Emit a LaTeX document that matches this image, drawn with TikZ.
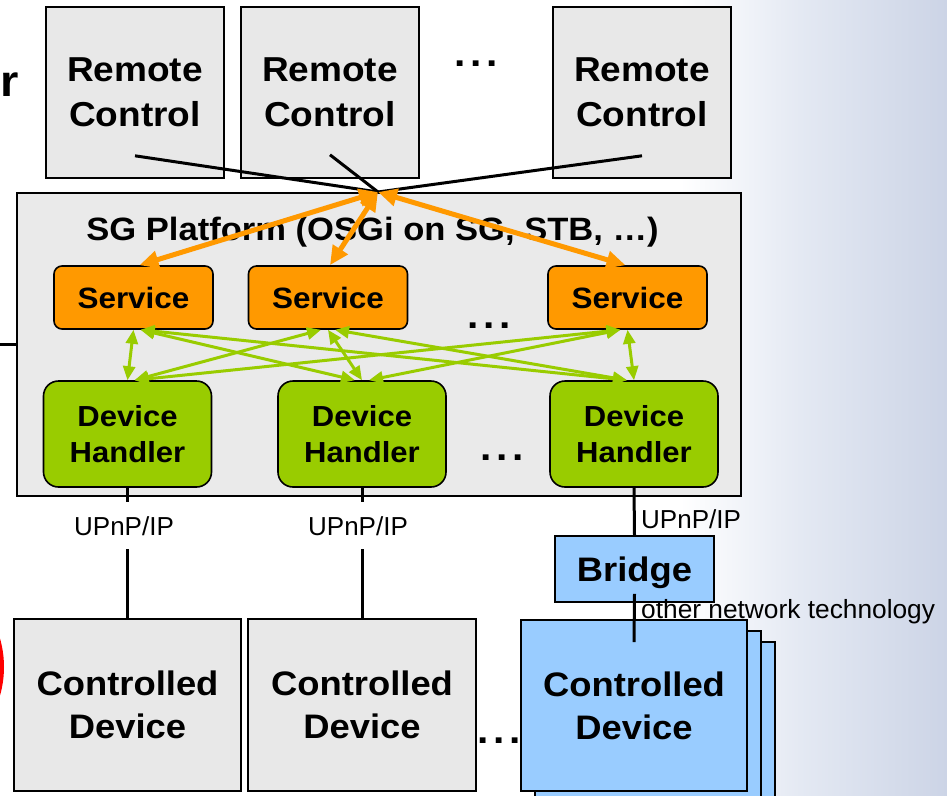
\documentclass[tikz,border=0pt]{standalone}
\usepackage{fontspec}
\setmainfont{Liberation Sans}[BoldFeatures={FakeStretch=1.07}]
\usetikzlibrary{arrows.meta,calc}

\definecolor{boxgray}{RGB}{232,232,232}
\definecolor{platgray}{RGB}{234,234,234}
\definecolor{svcorange}{RGB}{255,153,0}
\definecolor{dhgreen}{RGB}{153,204,0}
\definecolor{devblue}{RGB}{153,204,255}
\definecolor{bgmid}{RGB}{228,233,243}
\definecolor{bgblue}{RGB}{204,212,230}

\newcommand\fsz[2]{\fontsize{#1}{#2}\selectfont}
\newcommand\gapdots{.\kern5pt.\kern5pt.}

\tikzset{
  boxline/.style={draw=black, line width=1.6pt, inner sep=0pt, align=center},
  rcbox/.style={boxline, fill=boxgray, minimum width=178pt, minimum height=171pt,
                font=\bfseries\fsz{34.6}{45}},
  platbox/.style={boxline, fill=platgray, minimum width=724pt, minimum height=303pt},
  svcbox/.style={boxline, fill=svcorange, rounded corners=8pt, minimum width=159pt,
                 minimum height=63pt, font=\bfseries\fsz{29.4}{34}},
  dhbox/.style={boxline, fill=dhgreen, rounded corners=15pt, minimum width=168pt,
                minimum height=106pt, font=\bfseries\fsz{29}{36}},
  cdbox/.style={boxline, fill=boxgray, minimum width=227pt, minimum height=172pt,
                font=\bfseries\fsz{34}{43}},
  bluebox/.style={boxline, fill=devblue, minimum width=226pt, minimum height=171pt,
                  font=\bfseries\fsz{34}{43}},
  bridgebox/.style={boxline, fill=devblue, minimum width=159pt, minimum height=66pt,
                    font=\bfseries\fsz{34}{40}, text depth=0pt},
  dotrow/.style={anchor=base, inner sep=0pt, font=\bfseries\fsz{38}{40}},
  proto/.style={font=\fsz{26}{30}, inner xsep=2pt, inner ysep=14pt,
                text height=19pt, text depth=0pt},
  wire/.style={draw=black, line width=3pt},
  oarrow/.style={draw=svcorange, line width=5pt,
                 {Triangle[length=19pt,width=17pt]}-{Triangle[length=19pt,width=17pt]}},
  garrow/.style={draw=dhgreen, line width=3pt,
                 {Triangle[length=14pt,width=12pt]}-{Triangle[length=14pt,width=12pt]}}
}

\begin{document}
\begin{tikzpicture}[x=1pt,y=-1pt]
\useasboundingbox (0,0) rectangle (947,795);

% backdrop: white fading into a pale steel blue on the right
\fill[white] (0,0) rectangle (947,795);
\shade[left color=white, right color=bgmid] (680,0) rectangle (800,795);
\shade[left color=bgmid, right color=bgblue] (799.5,0) rectangle (947,795);

% partial items at the left edge
\node[anchor=base west, inner sep=0pt, font=\bfseries\fsz{44}{48}] (cut) at (0,96) {r};
\draw[red, line width=6pt] (-99.5,667) circle[radius=100.5pt];

% remote controls
\node[rcbox] (rc1) at (135,92.5) {Remote\\Control};
\node[rcbox] (rc2) at (330,92.5) {Remote\\Control};
\node[rcbox] (rc3) at (642,92.5) {Remote\\Control};
\node[dotrow] (dtop) at (476,66) {\gapdots};

% platform
\coordinate (lft) at (0,344.5);
\draw[wire] (lft) -- (379,344.5);
\node[platbox] (sg) at (379,344.5) {};
\node[anchor=base, inner sep=0pt, font=\bfseries\fsz{32.3}{36}] (sgtitle) at (372.5,240)
  {SG Platform (OSGi on SG, STB, …)};

% services
\node[svcbox] (s1) at (133.5,297.5) {Service};
\node[svcbox] (s2) at (328,297.5) {Service};
\node[svcbox] (s3) at (627.5,297.5) {Service};
\node[dotrow] (dsvc) at (489,328) {\gapdots};

% device handlers
\node[dhbox] (h1) at (127.5,434) {Device\\Handler};
\node[dhbox] (h2) at (362,434) {Device\\Handler};
\node[dhbox] (h3) at (634,434) {Device\\Handler};
\node[dotrow] (dhnd) at (502,460) {\gapdots};

% remote controls meet at one hub on the platform edge
\coordinate (hub) at (378,192);
\draw[wire] ([yshift=23pt]rc1.south) -- (hub);
\draw[wire] ([yshift=24pt]rc2.south) -- (hub);
\draw[wire] ([yshift=23pt]rc3.south) -- (hub);

% hub <-> services
\draw[oarrow] (hub) -- ([xshift=6pt]s1.north);
\draw[oarrow] (hub) -- ([xshift=2pt]s2.north);
\draw[oarrow] (hub) -- ([xshift=-2pt]s3.north);

% every service <-> every device handler
\foreach \i in {1,2,3}{
  \foreach \j in {1,2,3}{
    \pgfmathsetmacro\sgn{(\j>\i) - (\j<\i)}
    \draw[garrow] ([xshift=7*\sgn pt]s\i.south) -- ([xshift=-7*\sgn pt]h\j.north);
  }
}

% network links
\node[proto, anchor=base] (up1) at (124,535) {UPnP/IP};
\node[proto, anchor=base] (up2) at (358,535) {UPnP/IP};
\node[dotrow] (ddev) at (499,743) {\gapdots};

\node[cdbox] (cd1) at (127.5,705) {Controlled\\Device};
\node[cdbox, minimum width=228pt] (cd2) at (362,705) {Controlled\\Device};
\draw[wire] (h1.south) -- (h1.south |- up1.north);
\draw[wire] (h1.south |- up1.south) -- (cd1.north);
\draw[wire] (h2.south) -- (h2.south |- up2.north);
\draw[wire] (h2.south |- up2.south) -- (cd2.north);

% bridged devices, stacked
\node[bluebox] (cd3c) at (662,727.5) {};
\node[bluebox] (cd3b) at (648,716.5) {};
\node[bluebox] (cd3) at (634,705.5) {Controlled\\Device};
\node[bridgebox] (bridge) at (634.5,569) {Bridge};
\draw[wire] (h3.south) -- (bridge.north);
\draw[wire] ([yshift=9pt]bridge.south) -- ([yshift=-23pt]cd3.north);
\node[anchor=base west, inner sep=0pt, font=\fsz{26}{30}] (up3) at (641,528) {UPnP/IP};
\node[anchor=base west, inner sep=0pt, font=\fsz{26.3}{30}] (ont) at (641,618) {other network technology};
\end{tikzpicture}
\end{document}
